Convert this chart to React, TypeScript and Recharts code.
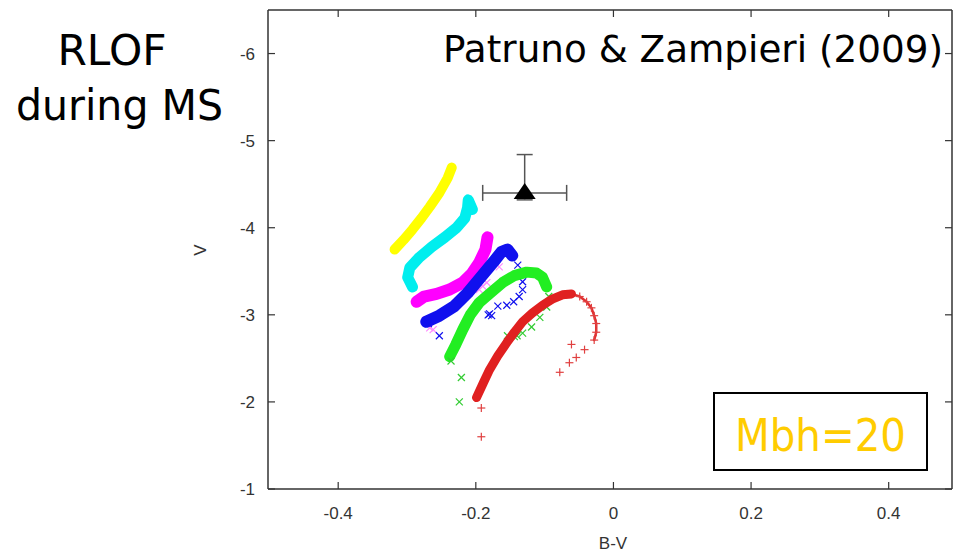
import React from 'react';
import { ScatterChart, Scatter, XAxis, YAxis, ErrorBar } from 'recharts';

// ---- axis ticks ----
const xTicks = [-0.4, -0.2, 0, 0.2, 0.4];
const vTicks = [-6, -5, -4, -3, -2, -1];
const xDomain = [-0.502, 0.492];
const vDomain = [-6.5, -1];

// ---- thick evolutionary tracks (B-V, V) ----
const yellowTrack = [
  { x: -0.318, v: -3.75 }, { x: -0.305, v: -3.86 }, { x: -0.292, v: -3.98 },
  { x: -0.279, v: -4.11 }, { x: -0.267, v: -4.24 }, { x: -0.253, v: -4.40 },
  { x: -0.241, v: -4.57 }, { x: -0.235, v: -4.69 },
];
const cyanTrack = [
  { x: -0.292, v: -3.32 }, { x: -0.299, v: -3.43 }, { x: -0.296, v: -3.54 },
  { x: -0.282, v: -3.66 }, { x: -0.264, v: -3.78 }, { x: -0.245, v: -3.89 },
  { x: -0.228, v: -4.00 }, { x: -0.216, v: -4.11 }, { x: -0.212, v: -4.23 },
  { x: -0.211, v: -4.32 }, { x: -0.205, v: -4.21 },
];
const magentaTrack = [
  { x: -0.286, v: -3.15 }, { x: -0.275, v: -3.21 }, { x: -0.257, v: -3.24 },
  { x: -0.238, v: -3.29 }, { x: -0.219, v: -3.37 }, { x: -0.206, v: -3.47 },
  { x: -0.195, v: -3.60 }, { x: -0.186, v: -3.75 }, { x: -0.183, v: -3.89 },
];
const blueTrack = [
  { x: -0.272, v: -2.92 }, { x: -0.253, v: -2.99 }, { x: -0.231, v: -3.10 },
  { x: -0.212, v: -3.25 }, { x: -0.192, v: -3.44 }, { x: -0.174, v: -3.61 },
  { x: -0.163, v: -3.72 }, { x: -0.154, v: -3.75 }, { x: -0.147, v: -3.68 },
];
const greenTrack = [
  { x: -0.238, v: -2.52 }, { x: -0.229, v: -2.66 }, { x: -0.219, v: -2.83 },
  { x: -0.208, v: -3.00 }, { x: -0.195, v: -3.14 }, { x: -0.179, v: -3.25 },
  { x: -0.161, v: -3.37 }, { x: -0.144, v: -3.45 }, { x: -0.126, v: -3.49 },
  { x: -0.112, v: -3.48 }, { x: -0.103, v: -3.43 }, { x: -0.097, v: -3.32 },
];
const redTrack = [
  { x: -0.199, v: -2.05 }, { x: -0.189, v: -2.22 }, { x: -0.180, v: -2.37 },
  { x: -0.168, v: -2.53 }, { x: -0.155, v: -2.68 }, { x: -0.144, v: -2.80 },
  { x: -0.132, v: -2.92 }, { x: -0.118, v: -3.02 }, { x: -0.103, v: -3.11 },
  { x: -0.089, v: -3.18 }, { x: -0.074, v: -3.23 }, { x: -0.061, v: -3.24 },
];
const redThinTrack = [
  { x: -0.061, v: -3.24 }, { x: -0.049, v: -3.21 }, { x: -0.039, v: -3.15 },
  { x: -0.032, v: -3.08 }, { x: -0.028, v: -2.99 }, { x: -0.025, v: -2.90 },
  { x: -0.025, v: -2.80 }, { x: -0.028, v: -2.71 },
];

// ---- sparse markers ----
const blueCrosses = [
  { x: -0.139, v: -3.57 }, { x: -0.135, v: -3.48 }, { x: -0.132, v: -3.38 },
  { x: -0.132, v: -3.29 }, { x: -0.137, v: -3.21 }, { x: -0.145, v: -3.15 },
  { x: -0.155, v: -3.11 }, { x: -0.168, v: -3.10 }, { x: -0.180, v: -3.01 },
  { x: -0.177, v: -2.99 }, { x: -0.182, v: -3.00 }, { x: -0.253, v: -2.76 },
  { x: -0.272, v: -2.92 }, { x: -0.269, v: -2.90 },
];
const pinkCrosses = [
  { x: -0.272, v: -2.94 }, { x: -0.267, v: -2.85 }, { x: -0.262, v: -2.83 },
  { x: -0.166, v: -3.55 }, { x: -0.184, v: -3.37 }, { x: -0.195, v: -3.29 },
  { x: -0.190, v: -3.33 },
];
const greenCrosses = [
  { x: -0.094, v: -3.21 }, { x: -0.097, v: -3.09 }, { x: -0.107, v: -2.97 },
  { x: -0.119, v: -2.86 }, { x: -0.132, v: -2.79 }, { x: -0.140, v: -2.76 },
  { x: -0.144, v: -2.75 }, { x: -0.154, v: -2.76 }, { x: -0.221, v: -2.28 },
  { x: -0.224, v: -2.00 }, { x: -0.236, v: -2.47 },
];
const redPluses = [
  { x: -0.049, v: -3.21 }, { x: -0.039, v: -3.15 }, { x: -0.032, v: -3.08 },
  { x: -0.028, v: -2.99 }, { x: -0.025, v: -2.90 }, { x: -0.025, v: -2.80 },
  { x: -0.028, v: -2.71 }, { x: -0.061, v: -2.66 }, { x: -0.042, v: -2.60 },
  { x: -0.054, v: -2.51 }, { x: -0.064, v: -2.45 }, { x: -0.078, v: -2.34 },
  { x: -0.192, v: -1.93 }, { x: -0.192, v: -1.60 },
];

// ---- observed source with error bars ----
const observed = [{ x: -0.129, v: -4.40, ex: 0.061, ev: [0.44, 0.08] }];

const AXIS = '#333';

const noShape = () => <g />;

const xMark = (color: string) => (p: any) => {
  const { cx, cy } = p;
  const s = 3.5;
  return (
    <g stroke={color} strokeWidth={1.2}>
      <line x1={cx - s} y1={cy - s} x2={cx + s} y2={cy + s} />
      <line x1={cx - s} y1={cy + s} x2={cx + s} y2={cy - s} />
    </g>
  );
};

const plusMark = (color: string) => (p: any) => {
  const { cx, cy } = p;
  const s = 4;
  return (
    <g stroke={color} strokeWidth={1.2}>
      <line x1={cx - s} y1={cy} x2={cx + s} y2={cy} />
      <line x1={cx} y1={cy - s} x2={cx} y2={cy + s} />
    </g>
  );
};

const triangle = (p: any) => {
  const { cx, cy } = p;
  return <polygon points={`${cx},${cy - 10} ${cx - 11},${cy + 6} ${cx + 11},${cy + 6}`} fill="#000" />;
};

const tickFont = { fontFamily: 'Liberation Sans, Arial, sans-serif', fontSize: 17, fill: '#333' };

const BottomTick = (p: any) => (
  <g>
    <line x1={p.x} y1={p.y} x2={p.x} y2={p.y - 7} stroke={AXIS} strokeWidth={1.2} />
    <text x={p.x} y={p.y + 30} textAnchor="middle" {...tickFont}>{String(p.payload.value)}</text>
  </g>
);
const TopTick = (p: any) => (
  <line x1={p.x} y1={p.y} x2={p.x} y2={p.y + 7} stroke={AXIS} strokeWidth={1.2} />
);
const LeftTick = (p: any) => (
  <g>
    <line x1={p.x} y1={p.y} x2={p.x + 7} y2={p.y} stroke={AXIS} strokeWidth={1.2} />
    <text x={p.x - 13} y={p.y + 6} textAnchor="end" {...tickFont}>{String(p.payload.value)}</text>
  </g>
);
const RightTick = (p: any) => (
  <line x1={p.x} y1={p.y} x2={p.x - 7} y2={p.y} stroke={AXIS} strokeWidth={1.2} />
);

const thick = (color: string, w: number) => ({
  stroke: color, strokeWidth: w, strokeLinecap: 'round', strokeLinejoin: 'round', fill: 'none',
});

export default function App() {
  const annFont = 'DejaVu Sans, Verdana, sans-serif';
  return (
    <div style={{ position: 'absolute', left: 0, top: 0, width: 957, height: 556, background: '#fff' }}>
      <ScatterChart width={957} height={556} margin={{ top: 9, right: 4, bottom: 0, left: 0 }}>
        <XAxis
          xAxisId={0} dataKey="x" type="number" domain={xDomain} ticks={xTicks}
          allowDataOverflow height={67} tickSize={0} tickMargin={0} tickLine={false}
          axisLine={{ stroke: AXIS, strokeWidth: 1.5 }} tick={BottomTick} interval={0}
        />
        <XAxis
          xAxisId="top" orientation="top" dataKey="x" type="number" domain={xDomain} ticks={xTicks}
          allowDataOverflow height={1} tickSize={0} tickMargin={0} tickLine={false}
          axisLine={{ stroke: AXIS, strokeWidth: 1.5 }} tick={TopTick} interval={0}
        />
        <YAxis
          yAxisId={0} dataKey="v" type="number" domain={vDomain} ticks={vTicks} reversed
          allowDataOverflow width={268} tickSize={0} tickMargin={0} tickLine={false}
          axisLine={{ stroke: AXIS, strokeWidth: 1.5 }} tick={LeftTick} interval={0}
        />
        <YAxis
          yAxisId="right" orientation="right" dataKey="v" type="number" domain={vDomain} ticks={vTicks} reversed
          allowDataOverflow width={1} tickSize={0} tickMargin={0} tickLine={false}
          axisLine={{ stroke: AXIS, strokeWidth: 1.5 }} tick={RightTick} interval={0}
        />

        <Scatter data={yellowTrack} fill="#ffff00" line={thick('#ffff00', 10)} shape={noShape} isAnimationActive={false} />
        <Scatter data={cyanTrack} fill="#00eeee" line={thick('#00eeee', 11)} shape={noShape} isAnimationActive={false} />
        <Scatter data={pinkCrosses} fill="#ff88ff" shape={xMark('#ff88ff')} isAnimationActive={false} />
        <Scatter data={magentaTrack} fill="#ff00ff" line={thick('#ff00ff', 12)} shape={noShape} isAnimationActive={false} />
        <Scatter data={blueTrack} fill="#1010ee" line={thick('#1010ee', 12)} shape={noShape} isAnimationActive={false} />
        <Scatter data={blueCrosses} fill="#1010ee" shape={xMark('#1010ee')} isAnimationActive={false} />
        <Scatter data={greenTrack} fill="#22ee22" line={thick('#22ee22', 11)} shape={noShape} isAnimationActive={false} />
        <Scatter data={greenCrosses} fill="#22cc22" shape={xMark('#33cc33')} isAnimationActive={false} />
        <Scatter data={redThinTrack} fill="#e03030" line={thick('#e03030', 2.5)} shape={noShape} isAnimationActive={false} />
        <Scatter data={redPluses} fill="#e03030" shape={plusMark('#e04040')} isAnimationActive={false} />
        <Scatter data={redTrack} fill="#e02020" line={thick('#e02020', 9)} shape={noShape} isAnimationActive={false} />

        <Scatter data={observed} fill="#000" shape={triangle} isAnimationActive={false}>
          <ErrorBar dataKey="ex" direction="x" width={8} stroke="#555" strokeWidth={1.5} />
          <ErrorBar dataKey="ev" direction="y" width={8} stroke="#555" strokeWidth={1.5} />
        </Scatter>
      </ScatterChart>

      <svg width={957} height={556} style={{ position: 'absolute', left: 0, top: 0, pointerEvents: 'none' }}>
        <text x={112} y={65} textAnchor="middle" fontFamily={annFont} fontSize={43} fill="#000"
          textLength={109} lengthAdjust="spacingAndGlyphs">RLOF</text>
        <text x={119.5} y={120} textAnchor="middle" fontFamily={annFont} fontSize={42} fill="#000"
          textLength={207} lengthAdjust="spacingAndGlyphs">during MS</text>
        <text x={443} y={62} fontFamily={annFont} fontSize={38} fill="#000"
          textLength={500} lengthAdjust="spacingAndGlyphs">Patruno &amp; Zampieri (2009)</text>
        <rect x={714} y={393} width={213} height={77} fill="#fff" stroke="#000" strokeWidth={2} />
        <text x={735} y={451} fontFamily={annFont} fontSize={45} fill="#ffcc00"
          textLength={171} lengthAdjust="spacingAndGlyphs">Mbh=20</text>
        <text x={200} y={250} transform="rotate(-90 200 250)" textAnchor="middle" dominantBaseline="central"
          fontFamily="Liberation Sans, Arial, sans-serif" fontSize={17} fill="#333">V</text>
        <text x={613} y={549} textAnchor="middle" fontFamily="Liberation Sans, Arial, sans-serif"
          fontSize={17} fill="#333">B-V</text>
      </svg>
    </div>
  );
}
